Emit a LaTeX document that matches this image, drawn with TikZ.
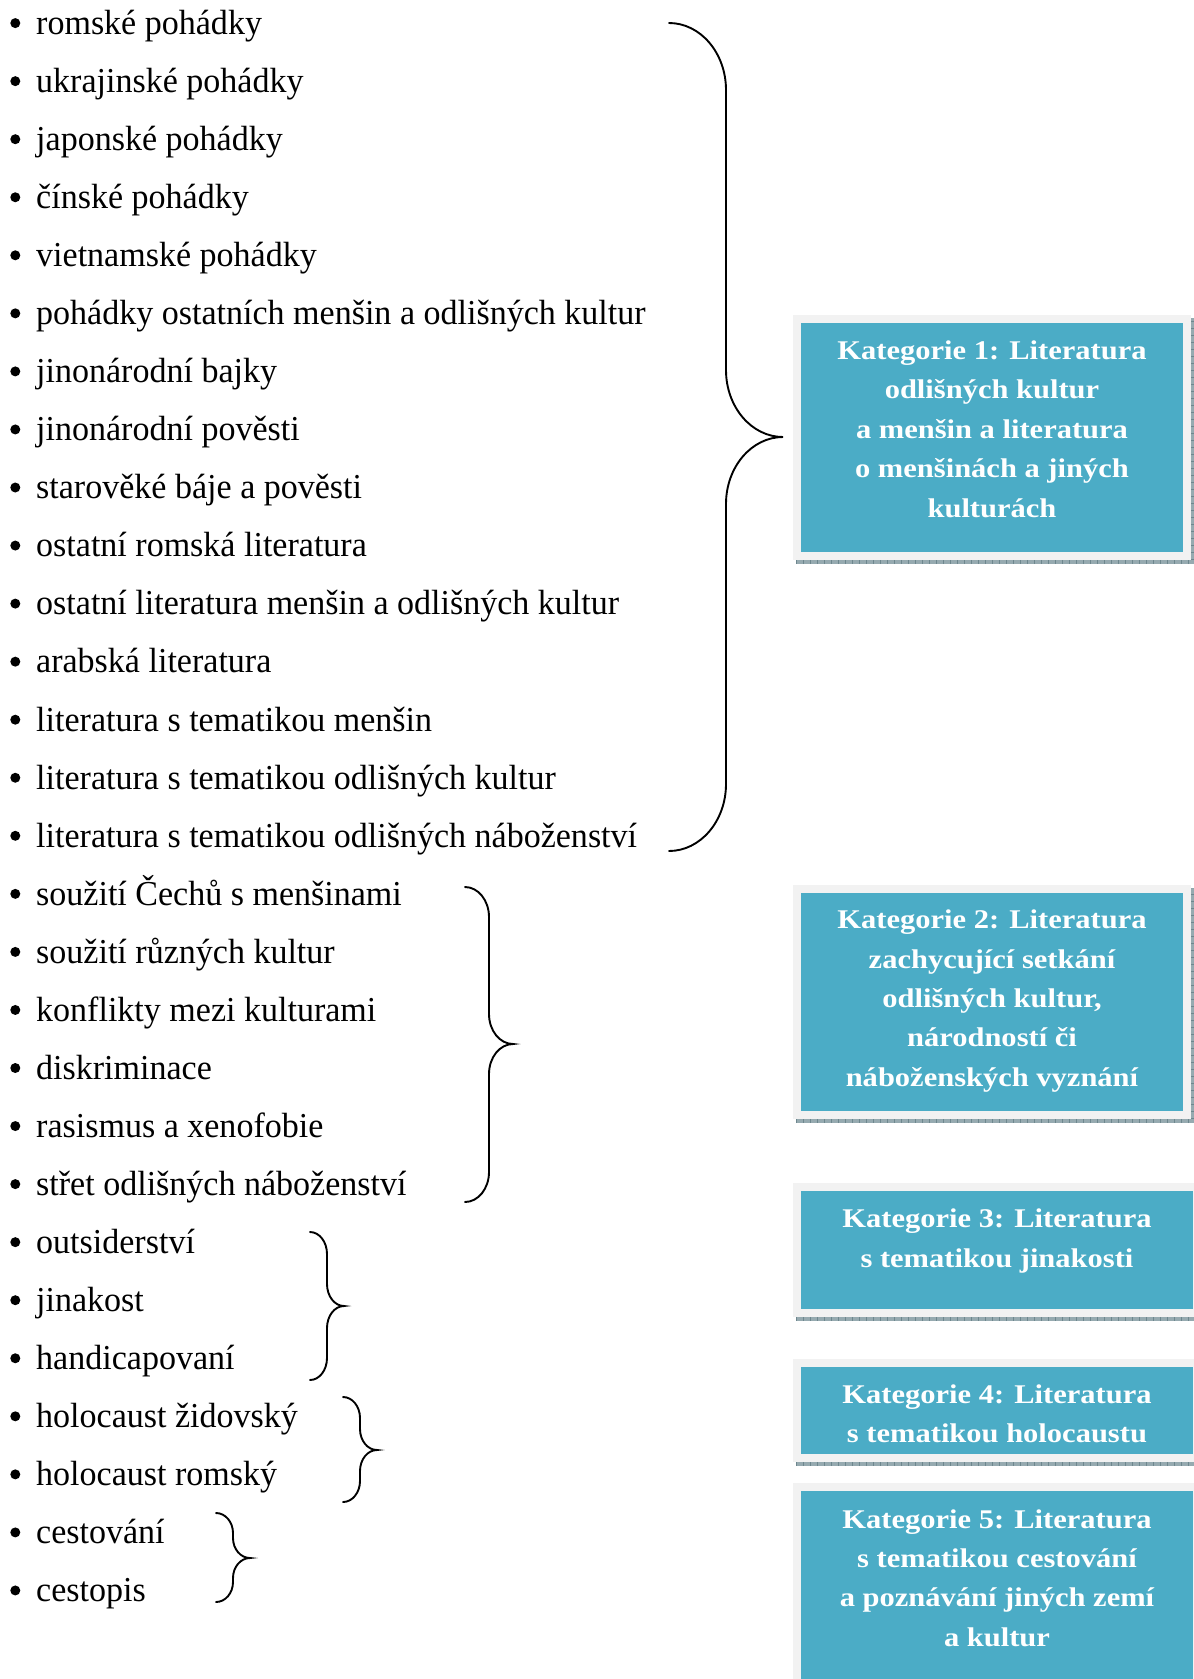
\documentclass[tikz,border=0pt]{standalone}
\usepackage{fontspec}
\setmainfont{Liberation Serif}
\newfontfamily\listfont[FakeStretch=0.972]{Liberation Serif}
\newfontfamily\boxfont[FakeStretch=1.13]{Liberation Serif}
\definecolor{teal5}{RGB}{75,172,198}
\definecolor{framegray}{RGB}{242,242,242}
\definecolor{shadowgray}{RGB}{150,170,176}
\definecolor{shadowdark}{RGB}{110,135,142}
\newcommand{\drawbrace}[6]{%
  \pgfmathsetmacro\bxm{(#1+#2)/2}%
  \pgfmathsetmacro\bh{(#2-#1)/2}%
  \draw[bracestyle] (#1,#3) .. controls ({#1+0.552*\bh},#3) and (\bxm,{#3+0.448*#6}) .. (\bxm,{#3+#6})
    -- (\bxm,{#4-#6}) .. controls (\bxm,{#4-0.448*#6}) and ({#2-0.552*\bh},#4) .. (#2,#4)
    .. controls ({#2-0.552*\bh},#4) and (\bxm,{#4+0.448*#6}) .. (\bxm,{#4+#6})
    -- (\bxm,{#5-#6}) .. controls (\bxm,{#5-0.448*#6}) and ({#1+0.552*\bh},#5) .. (#1,#5);%
}
% catbox: left, top, right, bottom (of grey frame); name
\newcommand{\catbox}[5]{%
  \fill[framegray] (#1,#2) rectangle (#3,#4);
  \draw[shadowline] ({#1+3},{#4+2}) -- ({#3+2},{#4+2}) -- ({#3+2},{#2+3});
  \draw[shadowticks] ({#1+3},{#4+2}) -- ({#3+2},{#4+2}) -- ({#3+2},{#2+3});
  \node[tealbox, minimum width={(#3-#1-16)*1pt}, minimum height={(#4-#2-16)*1pt}] (#5box) at ({(#1+#3)/2},{(#2+#4)/2}) {};
}
\tikzset{
  bracestyle/.style={line width=1.9pt, black, line cap=round},
  listtext/.style={anchor=base west, inner sep=0pt, font=\listfont\fontsize{35}{40}\selectfont},
  tealbox/.style={fill=teal5, draw=none, inner sep=0pt, rectangle},
  cattext/.style={text=white, align=center, inner sep=0pt, font=\boxfont\bfseries\fontsize{27}{39.4}\selectfont},
  shadowline/.style={line width=4pt, shadowgray},
  shadowticks/.style={line width=4pt, shadowdark, dash pattern=on 0.8pt off 6.2pt},
}
\begin{document}
\begin{tikzpicture}[x=1pt,y=-1pt]
\useasboundingbox (0,0) rectangle (1194,1679);
\clip (0,0) rectangle (1194,1679);
\fill[white] (0,0) rectangle (1194,1679);

% list items
\foreach \t [count=\i from 0] in {romské pohádky, ukrajinské pohádky, japonské pohádky, čínské pohádky, vietnamské pohádky, pohádky ostatních menšin a odlišných kultur, jinonárodní bajky, jinonárodní pověsti, starověké báje a pověsti, ostatní romská literatura, ostatní literatura menšin a odlišných kultur, arabská literatura, literatura s tematikou menšin, literatura s tematikou odlišných kultur, literatura s tematikou odlišných náboženství, soužití Čechů s menšinami, soužití různých kultur, konflikty mezi kulturami, diskriminace, rasismus a xenofobie, střet odlišných náboženství, outsiderství, jinakost, handicapovaní, holocaust židovský, holocaust romský, cestování, cestopis}{
  \fill (15.3,{23.6+58.05*\i-0.5}) circle[radius=5pt];
  \node[listtext] (item\i) at (36,{23.6+58.05*\i+10.8}) {\t};
}

% braces
\drawbrace{669}{783}{23}{437}{851}{67}
\drawbrace{465}{513}{887}{1044}{1202}{30}
\drawbrace{310}{344}{1232}{1306}{1380}{22}
\drawbrace{343}{377}{1397}{1450}{1502}{21}
\drawbrace{216}{250}{1513}{1558}{1602}{20}

% category boxes
\catbox{793}{315}{1191}{560}{k1}
\catbox{793}{885}{1191}{1119}{k2}
\catbox{793}{1183}{1201}{1317}{k3}
\catbox{793}{1359}{1201}{1462}{k4}
\catbox{793}{1483}{1201}{1688}{k5}

\node[cattext] (k1text) at (992,429) {Kategorie 1: Literatura\\odlišných kultur\\a menšin a literatura\\o menšinách a jiných\\kulturách};
\node[cattext] (k2text) at (992,1001) {Kategorie 2: Literatura\\zachycující setkání\\odlišných kultur,\\národností či\\náboženských vyznání};
\node[cattext] (k3text) at (997,1241) {Kategorie 3: Literatura\\s tematikou jinakosti};
\node[cattext] (k4text) at (997,1414) {Kategorie 4: Literatura\\s tematikou holocaustu};
\node[cattext] (k5text) at (997,1578) {Kategorie 5: Literatura\\s tematikou cestování\\a poznávání jiných zemí\\a kultur};
\end{tikzpicture}
\end{document}
